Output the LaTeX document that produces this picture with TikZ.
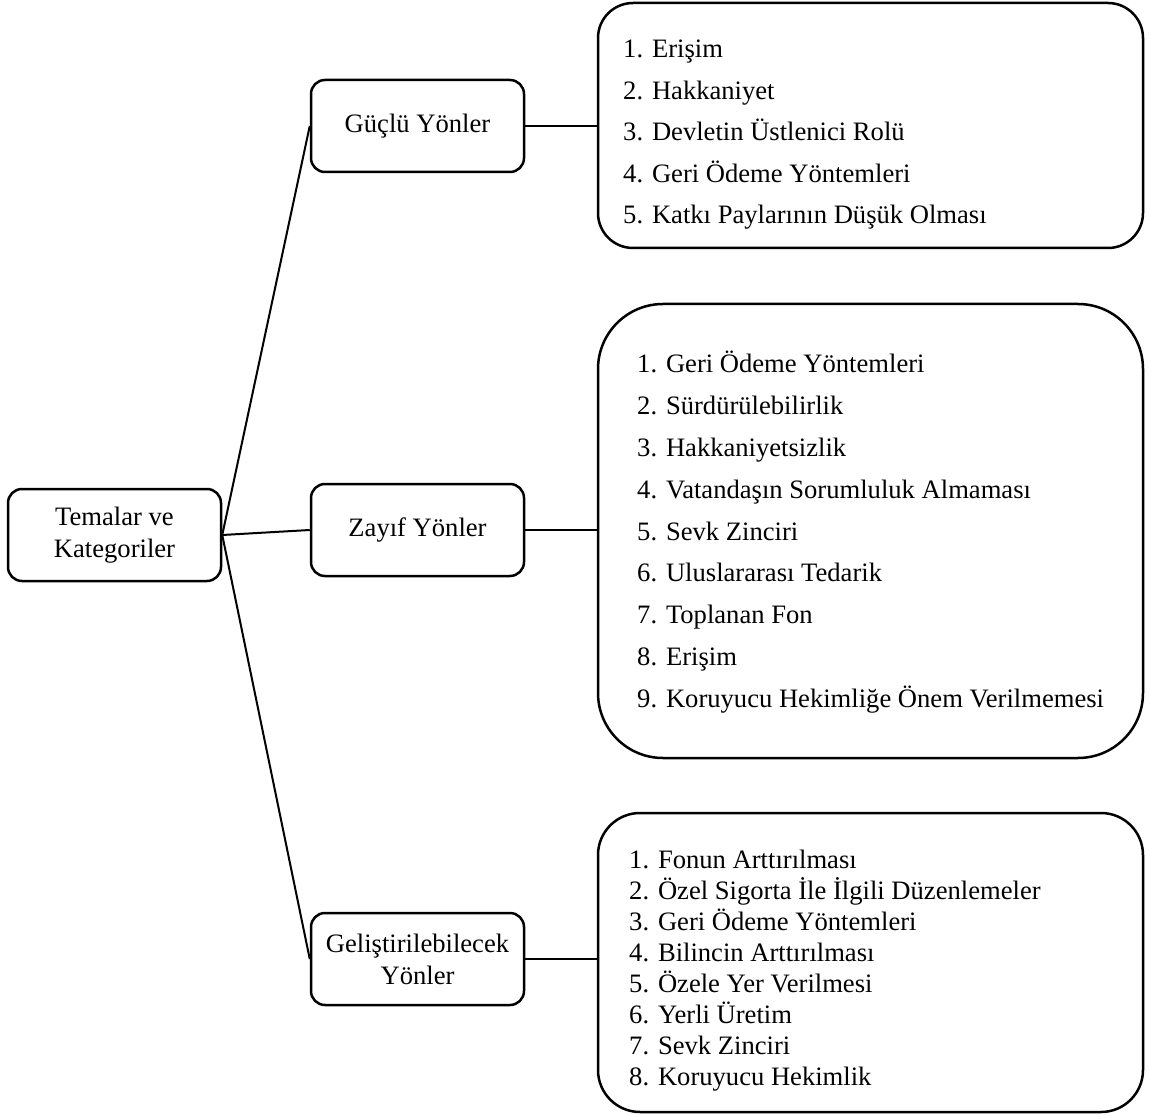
\documentclass[tikz,border=0pt]{standalone}
\usepackage{fontspec}
\setmainfont{Liberation Serif}
\begin{document}
\begin{tikzpicture}[x=1pt,y=-1pt,
  txt/.style={font=\fontsize{26.6}{32}\selectfont},
  smallbox/.style={txt, draw, line width=2.5pt, rounded corners=14pt, minimum width=213pt, minimum height=92pt, align=center, inner sep=0pt},
  listbox/.style={draw, line width=2.5pt, minimum width=545pt, inner sep=0pt},
  item/.style={txt, anchor=base west, inner sep=0pt},
  conn/.style={line width=2pt}]
\useasboundingbox (0,0) rectangle (1149,1115);

\node[smallbox] (tem) at (114.5,535) {Temalar ve\\Kategoriler};
\node[smallbox] (guc) at (417.5,126) {Güçlü Yönler};
\node[smallbox] (zay) at (417.5,530) {Zayıf Yönler};
\node[smallbox] (gel) at (417.5,959) {Geliştirilebilecek\\Yönler};

\node[listbox, minimum height=245pt, rounded corners=35pt] (L1) at (870.5,125.5) {};
\node[listbox, minimum height=454pt, rounded corners=65pt] (L2) at (870.5,531) {};
\node[listbox, minimum height=299pt, rounded corners=42pt] (L3) at (870.5,962.5) {};

\foreach \t [count=\i] in {1. Erişim, 2. Hakkaniyet, 3. Devletin Üstlenici Rolü, 4. Geri Ödeme Yöntemleri, 5. Katkı Paylarının Düşük Olması}
  \node[item] (a\i) at (623,{58+41.4*(\i-1)}) {\t};

\foreach \t [count=\i] in {1. Geri Ödeme Yöntemleri, 2. Sürdürülebilirlik, 3. Hakkaniyetsizlik, 4. Vatandaşın Sorumluluk Almaması, 5. Sevk Zinciri, 6. Uluslararası Tedarik, 7. Toplanan Fon, 8. Erişim, 9. Koruyucu Hekimliğe Önem Verilmemesi}
  \node[item] (b\i) at (637,{373+41.75*(\i-1)}) {\t};

\foreach \t [count=\i] in {1. Fonun Arttırılması, 2. Özel Sigorta İle İlgili Düzenlemeler, 3. Geri Ödeme Yöntemleri, 4. Bilincin Arttırılması, 5. Özele Yer Verilmesi, 6. Yerli Üretim, 7. Sevk Zinciri, 8. Koruyucu Hekimlik}
  \node[item] (c\i) at (629,{868+31*(\i-1)}) {\t};

\draw[conn] (tem.east) -- (guc.west);
\draw[conn] (tem.east) -- (zay.west);
\draw[conn] (tem.east) -- (gel.west);
\draw[conn] (guc.east) -- (guc.east -| L1.west);
\draw[conn] (zay.east) -- (zay.east -| L2.west);
\draw[conn] (gel.east) -- (gel.east -| L3.west);
\end{tikzpicture}
\end{document}
